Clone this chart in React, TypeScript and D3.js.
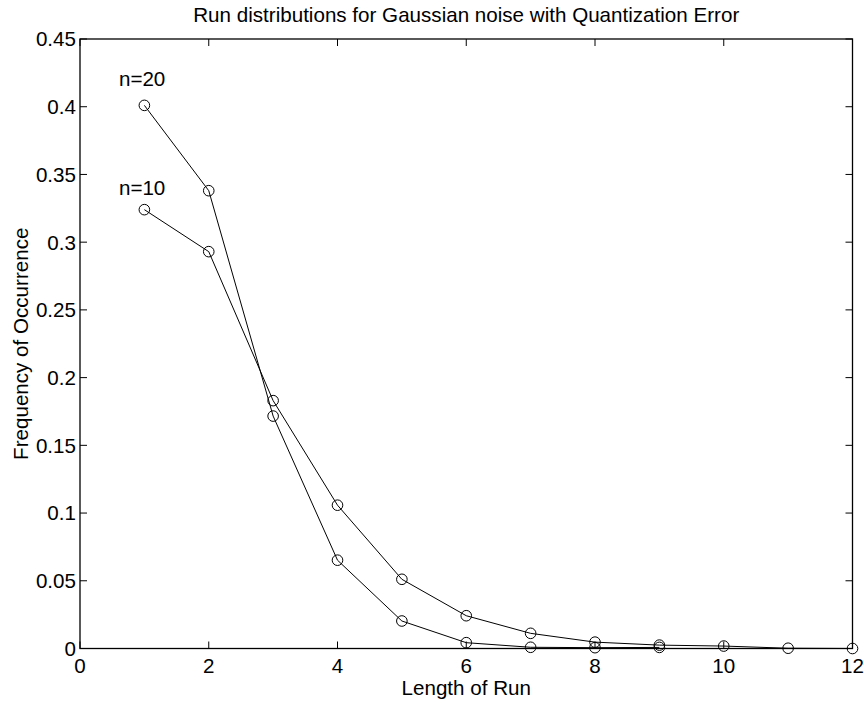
import React from "react";
import * as d3 from "d3";

const runLengthsN20 = [1, 2, 3, 4, 5, 6, 7, 8, 9];
const freqN20 = [0.401, 0.338, 0.1716, 0.0652, 0.0203, 0.0043, 0.0009, 0.0006, 0.0008];
const runLengthsN10 = [1, 2, 3, 4, 5, 6, 7, 8, 9, 10, 11, 12];
const freqN10 = [0.324, 0.293, 0.183, 0.1058, 0.0511, 0.0242, 0.0112, 0.0047, 0.0025, 0.0018, 0.0002, 0.0];

const xTicks = [0, 2, 4, 6, 8, 10, 12];
const yTicks = [0, 0.05, 0.1, 0.15, 0.2, 0.25, 0.3, 0.35, 0.4, 0.45];
const yTickLabels = ["0", "0.05", "0.1", "0.15", "0.2", "0.25", "0.3", "0.35", "0.4", "0.45"];

const seriesLabels = ["n=20", "n=10"];
const labelX = [0.605, 0.605];
const labelY = [0.415, 0.335];

const W = 864;
const H = 703;
const left = 80;
const right = 852.5;
const top = 39;
const bottom = 648.5;
const font = "'Liberation Sans', Arial, Helvetica, sans-serif";
const fs = 20.6;

export default function App() {
  const x = d3.scaleLinear().domain([0, 12]).range([left, right]);
  const y = d3.scaleLinear().domain([0, 0.45]).range([bottom, top]);
  const line = d3
    .line<[number, number]>()
    .x((d) => x(d[0]))
    .y((d) => y(d[1]));

  const series = [
    runLengthsN20.map((r, i) => [r, freqN20[i]] as [number, number]),
    runLengthsN10.map((r, i) => [r, freqN10[i]] as [number, number]),
  ];
  const tickLen = 7;

  return (
    <svg
      width={W}
      height={H}
      style={{ position: "absolute", left: 0, top: 0, background: "#fff" }}
      fontFamily={font}
    >
      <rect x={0} y={0} width={W} height={H} fill="#fff" />
      {xTicks.map((t) => (
        <g key={"xt" + t}>
          <line x1={x(t)} x2={x(t)} y1={bottom} y2={bottom - tickLen} stroke="#000" strokeWidth={1} />
          <line x1={x(t)} x2={x(t)} y1={top} y2={top + tickLen} stroke="#000" strokeWidth={1} />
          <text x={x(t)} y={673} textAnchor="middle" fontSize={fs} fill="#000">
            {t}
          </text>
        </g>
      ))}
      {yTicks.map((t, i) => (
        <g key={"yt" + t}>
          <line x1={left} x2={left + tickLen} y1={y(t)} y2={y(t)} stroke="#000" strokeWidth={1} />
          <line x1={right} x2={right - tickLen} y1={y(t)} y2={y(t)} stroke="#000" strokeWidth={1} />
          <text x={76} y={y(t)} dy="0.36em" textAnchor="end" fontSize={fs} fill="#000">
            {yTickLabels[i]}
          </text>
        </g>
      ))}
      <rect
        x={left}
        y={top}
        width={right - left}
        height={bottom - top}
        fill="none"
        stroke="#000"
        strokeWidth={1.3}
      />
      {series.map((s, si) => (
        <g key={"s" + si}>
          <path d={line(s) || ""} fill="none" stroke="#000" strokeWidth={1} />
          {s.map((d, i) => (
            <circle key={i} cx={x(d[0])} cy={y(d[1])} r={5.3} fill="none" stroke="#000" strokeWidth={1} />
          ))}
        </g>
      ))}
      {seriesLabels.map((l, i) => (
        <text key={l} x={x(labelX[i])} y={y(labelY[i])} fontSize={fs} fill="#000">
          {l}
        </text>
      ))}
      <text x={(left + right) / 2} y={22} textAnchor="middle" fontSize={fs} fill="#000">
        Run distributions for Gaussian noise with Quantization Error
      </text>
      <text x={(left + right) / 2} y={695} textAnchor="middle" fontSize={fs} fill="#000">
        Length of Run
      </text>
      <text
        transform={`translate(28, ${(top + bottom) / 2}) rotate(-90)`}
        textAnchor="middle"
        fontSize={fs}
        fill="#000"
      >
        Frequency of Occurrence
      </text>
    </svg>
  );
}
